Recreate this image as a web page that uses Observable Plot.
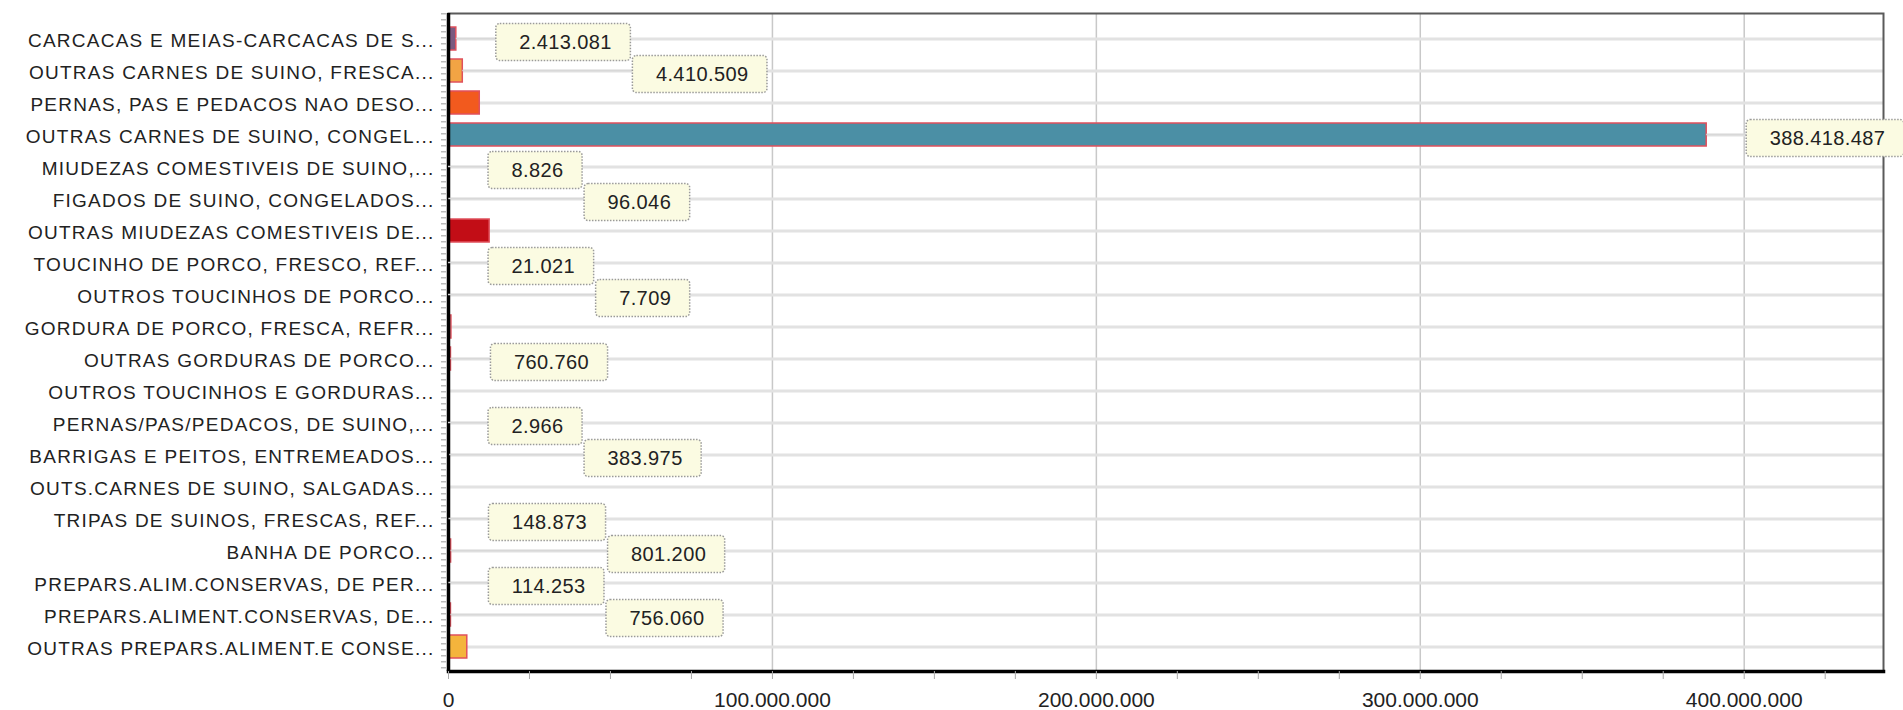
<!DOCTYPE html>
<html><head><meta charset="utf-8">
<script src="https://cdn.jsdelivr.net/npm/d3@7"></script>
<script src="https://cdn.jsdelivr.net/npm/@observablehq/plot@0.6"></script>
<style>
body{margin:0;background:#fff;}
#chart svg{display:block;}
#chart g[aria-label="y-axis tick label"] text{letter-spacing:1.25px;}
#chart g.vlabel text{letter-spacing:0.4px;}
</style></head><body><div id="chart"></div>
<script>
const categories = [
  "CARCACAS E MEIAS-CARCACAS DE S...",
  "OUTRAS CARNES DE SUINO, FRESCA...",
  "PERNAS, PAS E PEDACOS NAO DESO...",
  "OUTRAS CARNES DE SUINO, CONGEL...",
  "MIUDEZAS COMESTIVEIS DE SUINO,...",
  "FIGADOS DE SUINO, CONGELADOS...",
  "OUTRAS MIUDEZAS COMESTIVEIS DE...",
  "TOUCINHO DE PORCO, FRESCO, REF...",
  "OUTROS TOUCINHOS DE PORCO...",
  "GORDURA DE PORCO, FRESCA, REFR...",
  "OUTRAS GORDURAS DE PORCO...",
  "OUTROS TOUCINHOS E GORDURAS...",
  "PERNAS/PAS/PEDACOS, DE SUINO,...",
  "BARRIGAS E PEITOS, ENTREMEADOS...",
  "OUTS.CARNES DE SUINO, SALGADAS...",
  "TRIPAS DE SUINOS, FRESCAS, REF...",
  "BANHA DE PORCO...",
  "PREPARS.ALIM.CONSERVAS, DE PER...",
  "PREPARS.ALIMENT.CONSERVAS, DE...",
  "OUTRAS PREPARS.ALIMENT.E CONSE..."
];
const values = [
  2413081, 4410509, 9650000, 388418487, 8826, 96046, 12700000, 21021, 7709, 900000,
  760760, 20000, 2966, 383975, 15000, 148873, 801200, 114253, 756060, 5800000
];
const showLabel = [
  true, true, false, true, true, true, false, true, true, false,
  true, false, true, true, false, true, true, true, true, false
];
const xTicks = [0, 100000000, 200000000, 300000000, 400000000];
const palette = [
  "#7b5a80", "#f2a444", "#f25a1e", "#4b8fa5", "#8fbf5a", "#9b59b6", "#c20d16", "#5b9bd5", "#7f7f7f", "#9a9a9a",
  "#b0b0b0", "#a0a0a0", "#8a8a8a", "#ef9e48", "#909090", "#b07040", "#8c8c8c", "#c07050", "#d04a5a", "#f4b43c"
];

const fmt = d3.formatLocale({decimal: ",", thousands: ".", grouping: [3], currency: ["R$", ""]}).format(",d");
const data = categories.map((name, i) => ({name, value: values[i], show: showLabel[i]}));

const base = {
  width: 1903, height: 710,
  marginLeft: 448, marginRight: 20, marginTop: 13, marginBottom: 39,
  x: {domain: [0, 443000000]},
  y: {domain: categories, paddingInner: 0.286, paddingOuter: 0.36, label: null},
  color: {domain: categories, range: palette},
  style: {fontFamily: "'Liberation Sans', Arial, sans-serif", background: "#fff", color: "#222"}
};

// first pass to obtain the x scale
const probe = Plot.plot({...base, marks: [Plot.barX(data, {x: "value", y: "name"})]});
const xs = probe.scale("x");

const ctx = document.createElement("canvas").getContext("2d");
ctx.font = "20px 'Liberation Sans'";
const measure = (s) => ctx.measureText(s).width + 0.4 * s.length;

const labels = [];
let prev = null;
data.forEach((d, i) => {
  if (!d.show) { prev = null; return; }
  const label = fmt(d.value);
  const w = measure(label) + 42;
  let left = xs.apply(d.value) + 40;
  if (prev && prev.i === i - 1 && left < prev.right && left + w > prev.left) left = prev.right + 2;
  const lab = {name: d.name, value: d.value, label, i, left, right: left + w};
  labels.push(lab);
  prev = lab;
});
labels.forEach((l) => {
  l.bx1 = xs.invert(l.left);
  l.bx2 = xs.invert(l.right);
  l.tx = xs.invert(l.left + 23);
});

const chart = Plot.plot({
  ...base,
  marks: [
    Plot.gridX({ticks: xTicks.slice(1), stroke: "#c8c8c8", strokeWidth: 1.5, strokeOpacity: 1}),
    Plot.gridY({stroke: "#e2e2e2", strokeWidth: 3, strokeOpacity: 1}),
    Plot.barX(data, {x: "value", y: "name", fill: "name", stroke: "#e0505c", strokeWidth: 1.5}),
    Plot.frame({stroke: "#5a5a5a", strokeWidth: 2}),
    Plot.ruleX([0], {dx: -5, stroke: "#bbb", strokeWidth: 5, strokeDasharray: "1.5,4.5"}),
    Plot.ruleX([0], {stroke: "#000", strokeWidth: 3.5}),
    Plot.frame({anchor: "bottom", stroke: "#000", strokeWidth: 3.5}),
    Plot.barX(labels, {x1: "value", x2: "bx1", y: "name", fill: "#d8d8d8", insetTop: 10.75, insetBottom: 10.75}),
    Plot.barX(labels, {x1: "bx1", x2: "bx2", y: "name", fill: "#fbfbe2", stroke: "#9a9a9a", strokeWidth: 1.5,
      strokeDasharray: "1.5,1.5", rx: 4, insetTop: -3.5, insetBottom: -10.5}),
    Plot.text(labels, {x: "tx", y: "name", text: "label", textAnchor: "start", dy: 4, fontSize: 20, fill: "#222", className: "vlabel"}),
    Plot.axisY({tickSize: 0, tickPadding: 14, fontSize: 19, fill: "#222", dy: 2, label: null}),
    Plot.axisX({ticks: d3.range(0, 443000000, 25000000), tickSize: 8, tickFormat: () => "", stroke: "#aaa", label: null}),
    Plot.axisX({ticks: xTicks, tickSize: 0, tickPadding: 21, fontSize: 21, tickFormat: fmt, fill: "#222", label: null})
  ]
});
document.getElementById("chart").appendChild(chart);
</script></body></html>
